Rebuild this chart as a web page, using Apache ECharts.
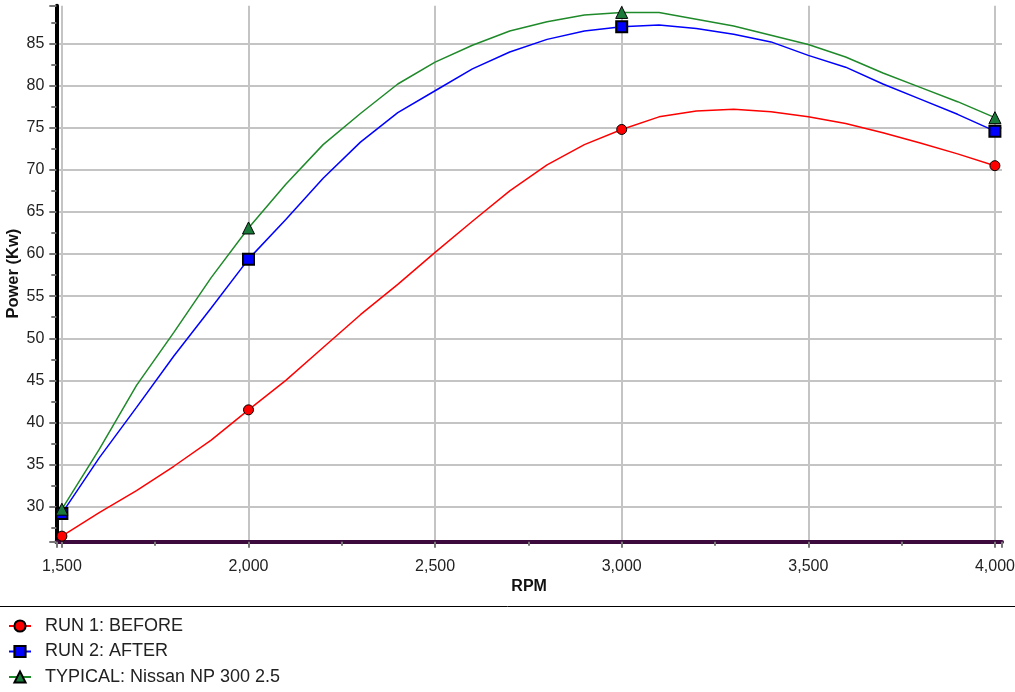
<!DOCTYPE html>
<html>
<head>
<meta charset="utf-8">
<script src="https://cdn.jsdelivr.net/npm/echarts@6/dist/echarts.min.js"></script>
<style>
html,body{margin:0;padding:0;background:#fff;}
#c{width:1015px;height:692px;}
</style>
</head>
<body>
<div id="c"></div>
<script>
// ---- data ----
const RPM = [1500,1600,1700,1800,1900,2000,2100,2200,2300,2400,2500,2600,2700,2800,2900,3000,3100,3200,3300,3400,3500,3600,3700,3800,3900,4000];
const RUN1_BEFORE = [26.5,29.3,31.9,34.8,37.9,41.5,45.0,48.9,52.8,56.4,60.2,63.9,67.5,70.6,73.0,74.8,76.3,77.0,77.2,76.9,76.3,75.5,74.4,73.2,71.9,70.5];
const RUN2_AFTER  = [29.2,35.8,41.8,47.9,53.6,59.4,64.1,69.0,73.3,76.8,79.4,82.0,84.0,85.5,86.5,87.0,87.2,86.8,86.1,85.2,83.6,82.2,80.2,78.4,76.6,74.6];
const TYPICAL     = [29.7,36.8,44.4,50.7,57.2,63.1,68.3,73.0,76.7,80.2,82.8,84.8,86.5,87.6,88.4,88.7,88.7,87.9,87.1,86.0,84.9,83.4,81.5,79.8,78.1,76.2];
const MARKER_RPM = [1500,2000,3000,4000];
const SERIES_NAMES = ['RUN 1: BEFORE','RUN 2: AFTER','TYPICAL: Nissan NP 300 2.5'];
const X_TITLE = 'RPM';
const Y_TITLE = 'Power (Kw)';

function pts(vals){
  return RPM.map(function(r,i){
    return MARKER_RPM.indexOf(r) >= 0 ? {value:[r,vals[i]]} : {value:[r,vals[i]], symbol:'none'};
  });
}

const chart = echarts.init(document.getElementById('c'), null, {renderer:'canvas'});
const FONT = 'Liberation Sans, Arial, sans-serif';

chart.setOption({
  animation:false,
  backgroundColor:'#fff',
  grid:{left:56.3, top:5.7, width:945.7, height:536, containLabel:false, outerBoundsMode:'none'},
  graphic:[{type:'line', shape:{x1:0,y1:606.5,x2:1015,y2:606.5}, style:{stroke:'#000', lineWidth:1}, silent:true}],
  legend:{
    orient:'vertical', left:3, top:612, height:90, itemWidth:22, itemHeight:14, itemGap:7.5,
    textStyle:{fontFamily:FONT, fontSize:18, color:'#222', padding:[0,0,0,9]},
    data:SERIES_NAMES
  },
  xAxis:{
    type:'value', min:1485, max:4019, splitNumber:5,
    name:X_TITLE, nameLocation:'middle', nameGap:37, nameMoveOverlap:false,
    nameTextStyle:{fontFamily:FONT, fontSize:16, fontWeight:'bold', color:'#111'},
    axisLine:{show:true, onZero:false, lineStyle:{color:'#3d0a3d', width:4}},
    axisTick:{show:true, length:6, lineStyle:{color:'#777', width:2}},
    minorTick:{show:true, splitNumber:2, length:4, lineStyle:{color:'#777', width:2}},
    splitLine:{show:true, showMaxLine:false, lineStyle:{color:'#c4c4c4', width:2}},
    axisLabel:{margin:17, fontFamily:FONT, fontSize:16, color:'#222', showMinLabel:false, showMaxLabel:false,
      formatter:function(v){ return (Math.abs(v % 500) < 1e-6) ? v.toLocaleString('en-US') : ''; }}
  },
  yAxis:{
    type:'value', min:25.84, max:89.5, splitNumber:12,
    name:Y_TITLE, nameLocation:'middle', nameGap:34, nameRotate:90, nameMoveOverlap:false,
    nameTextStyle:{fontFamily:FONT, fontSize:16.5, fontWeight:'bold', color:'#111'},
    axisLine:{show:true, onZero:false, lineStyle:{color:'#000', width:4}},
    axisTick:{show:true, length:7, lineStyle:{color:'#777', width:2}},
    minorTick:{show:true, splitNumber:2, length:5, lineStyle:{color:'#777', width:2}},
    splitLine:{show:true, showMinLine:false, showMaxLine:false, lineStyle:{color:'#c4c4c4', width:2}},
    axisLabel:{margin:12, fontFamily:FONT, fontSize:16, color:'#222', showMinLabel:false, showMaxLabel:false,
      formatter:function(v){ return (Math.abs(v % 5) < 1e-6) ? String(v) : ''; }}
  },
  series:[
    {name:SERIES_NAMES[0], type:'line', data:pts(RUN1_BEFORE), symbol:'circle', symbolSize:10, showSymbol:true,
      lineStyle:{color:'#ff0000', width:1.5}, itemStyle:{color:'#ff0000', borderColor:'#000', borderWidth:1}},
    {name:SERIES_NAMES[1], type:'line', data:pts(RUN2_AFTER), symbol:'rect', symbolSize:11, showSymbol:true,
      lineStyle:{color:'#0000ff', width:1.5}, itemStyle:{color:'#0000ff', borderColor:'#000', borderWidth:2}},
    {name:SERIES_NAMES[2], type:'line', data:pts(TYPICAL), symbol:'triangle', symbolSize:12, showSymbol:true,
      lineStyle:{color:'#1f8a2a', width:1.5}, itemStyle:{color:'#1a7a3a', borderColor:'#000', borderWidth:1}}
  ]
});
</script>
</body>
</html>
